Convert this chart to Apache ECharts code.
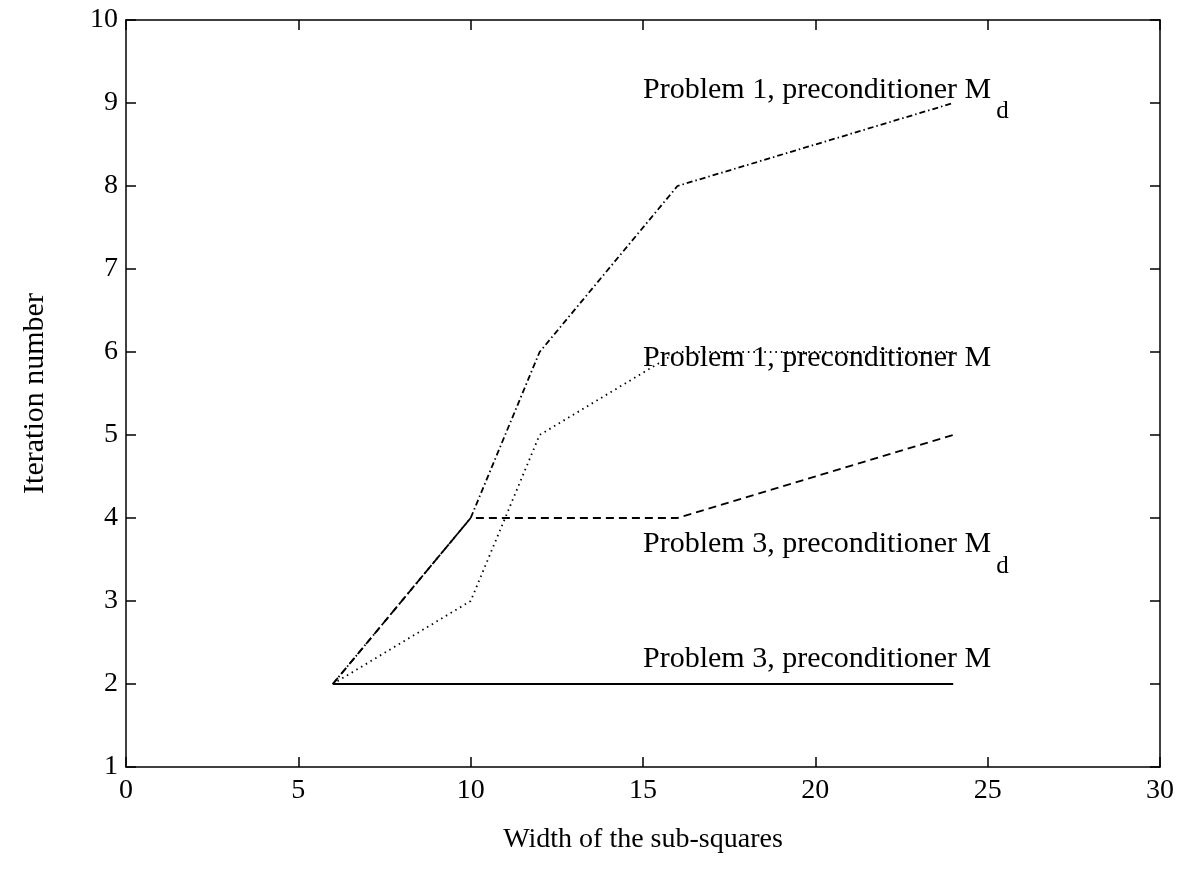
<!DOCTYPE html>
<html>
<head>
<meta charset="utf-8">
<script src="https://cdn.jsdelivr.net/npm/echarts@6/dist/echarts.min.js"></script>
<style>
  html, body { margin: 0; padding: 0; background: #fff; }
  #chart { width: 1189px; height: 877px; }
</style>
</head>
<body>
<div id="chart"></div>
<script>
// ---- data ----
const widths = [6, 10, 12, 16, 24];
const p1Md = [2, 4, 6, 8, 9];
const p1M = [2, 3, 5, 6, 6];
const p3Md = [2, 4, 4, 4, 5];
const p3M = [2, 2, 2, 2, 2];

const xTicks = [0, 5, 10, 15, 20, 25, 30];
const yTicks = [1, 2, 3, 4, 5, 6, 7, 8, 9, 10];

const annoText = ['Problem 1, preconditioner M', 'Problem 1, preconditioner M', 'Problem 3, preconditioner M', 'Problem 3, preconditioner M'];
const annoSub = ['d', '', 'd', ''];
const annoX = [15, 15, 15, 15];
const annoY = [9.34, 6.11, 3.86, 2.48];

const FONT = '"Liberation Serif", "DejaVu Serif", serif';

const pairs = (ys) => widths.map((x, i) => [x, ys[i]]);
const lineStyle = (type) => ({ color: '#000', width: 1.8, type: type });

function mkSeries(name, ys, type) {
  return {
    name: name, type: 'line', data: pairs(ys), showSymbol: false, symbol: 'none',
    lineStyle: lineStyle(type), animation: false, silent: true,
    xAxisIndex: 0, yAxisIndex: 0
  };
}

const annoData = annoText.map((t, i) => ({
  value: [annoX[i], annoY[i]],
  label: {
    formatter: annoSub[i] ? '{a|' + t + '}{d|' + annoSub[i] + '}' : '{a|' + t + '}'
  }
}));

const chart = echarts.init(document.getElementById('chart'), null, { renderer: 'canvas' });

const axisCommon = {
  axisLine: { show: true, onZero: false, lineStyle: { color: '#000', width: 1.5 } },
  axisTick: { show: true, inside: true, length: 10, lineStyle: { color: '#000', width: 1.5 } },
  splitLine: { show: false }
};

chart.setOption({
  backgroundColor: '#fff',
  animation: false,
  grid: { left: 126, right: 29, top: 20, bottom: 110, containLabel: false },
  xAxis: [
    Object.assign({}, axisCommon, {
      type: 'value', min: 0, max: 30, interval: 5, position: 'bottom',
      name: 'Width of the sub-squares', nameLocation: 'middle', nameGap: 59,
      nameTextStyle: { fontFamily: FONT, fontSize: 28, color: '#000' },
      axisLabel: { show: true, margin: 10, fontFamily: FONT, fontSize: 28, color: '#000',
        formatter: (v) => xTicks.indexOf(v) >= 0 ? String(v) : '' }
    }),
    Object.assign({}, axisCommon, {
      type: 'value', min: 0, max: 30, interval: 5, position: 'top',
      axisLabel: { show: false }
    })
  ],
  yAxis: [
    Object.assign({}, axisCommon, {
      type: 'value', min: 1, max: 10, interval: 1, position: 'left',
      name: 'Iteration number', nameLocation: 'middle', nameGap: 76,
      nameTextStyle: { fontFamily: FONT, fontSize: 30, color: '#000' },
      axisLabel: { show: true, margin: 8, fontFamily: FONT, fontSize: 28, color: '#000',
        formatter: (v) => yTicks.indexOf(v) >= 0 ? String(v) : '' }
    }),
    Object.assign({}, axisCommon, {
      type: 'value', min: 1, max: 10, interval: 1, position: 'right',
      axisLabel: { show: false }
    })
  ],
  series: [
    mkSeries('Problem 3, preconditioner M', p3M, 'solid'),
    mkSeries('Problem 3, preconditioner Md', p3Md, [8, 5]),
    mkSeries('Problem 1, preconditioner M', p1M, [1.5, 4]),
    mkSeries('Problem 1, preconditioner Md', p1Md, [6, 3, 1.5, 3]),
    {
      type: 'scatter', data: annoData, symbolSize: 0, silent: true, animation: false,
      xAxisIndex: 0, yAxisIndex: 0,
      itemStyle: { opacity: 1, color: '#000' },
      label: {
        show: true, position: 'right', distance: 0, align: 'left', verticalAlign: 'top',
        color: '#000', opacity: 1, textBorderWidth: 0,
        rich: {
          a: { fontFamily: FONT, fontSize: 30, lineHeight: 34, color: '#000', verticalAlign: 'top' },
          d: { fontFamily: FONT, fontSize: 25, lineHeight: 25, color: '#000', verticalAlign: 'top', padding: [24, 0, 0, 5] }
        }
      }
    }
  ]
});
</script>
</body>
</html>
